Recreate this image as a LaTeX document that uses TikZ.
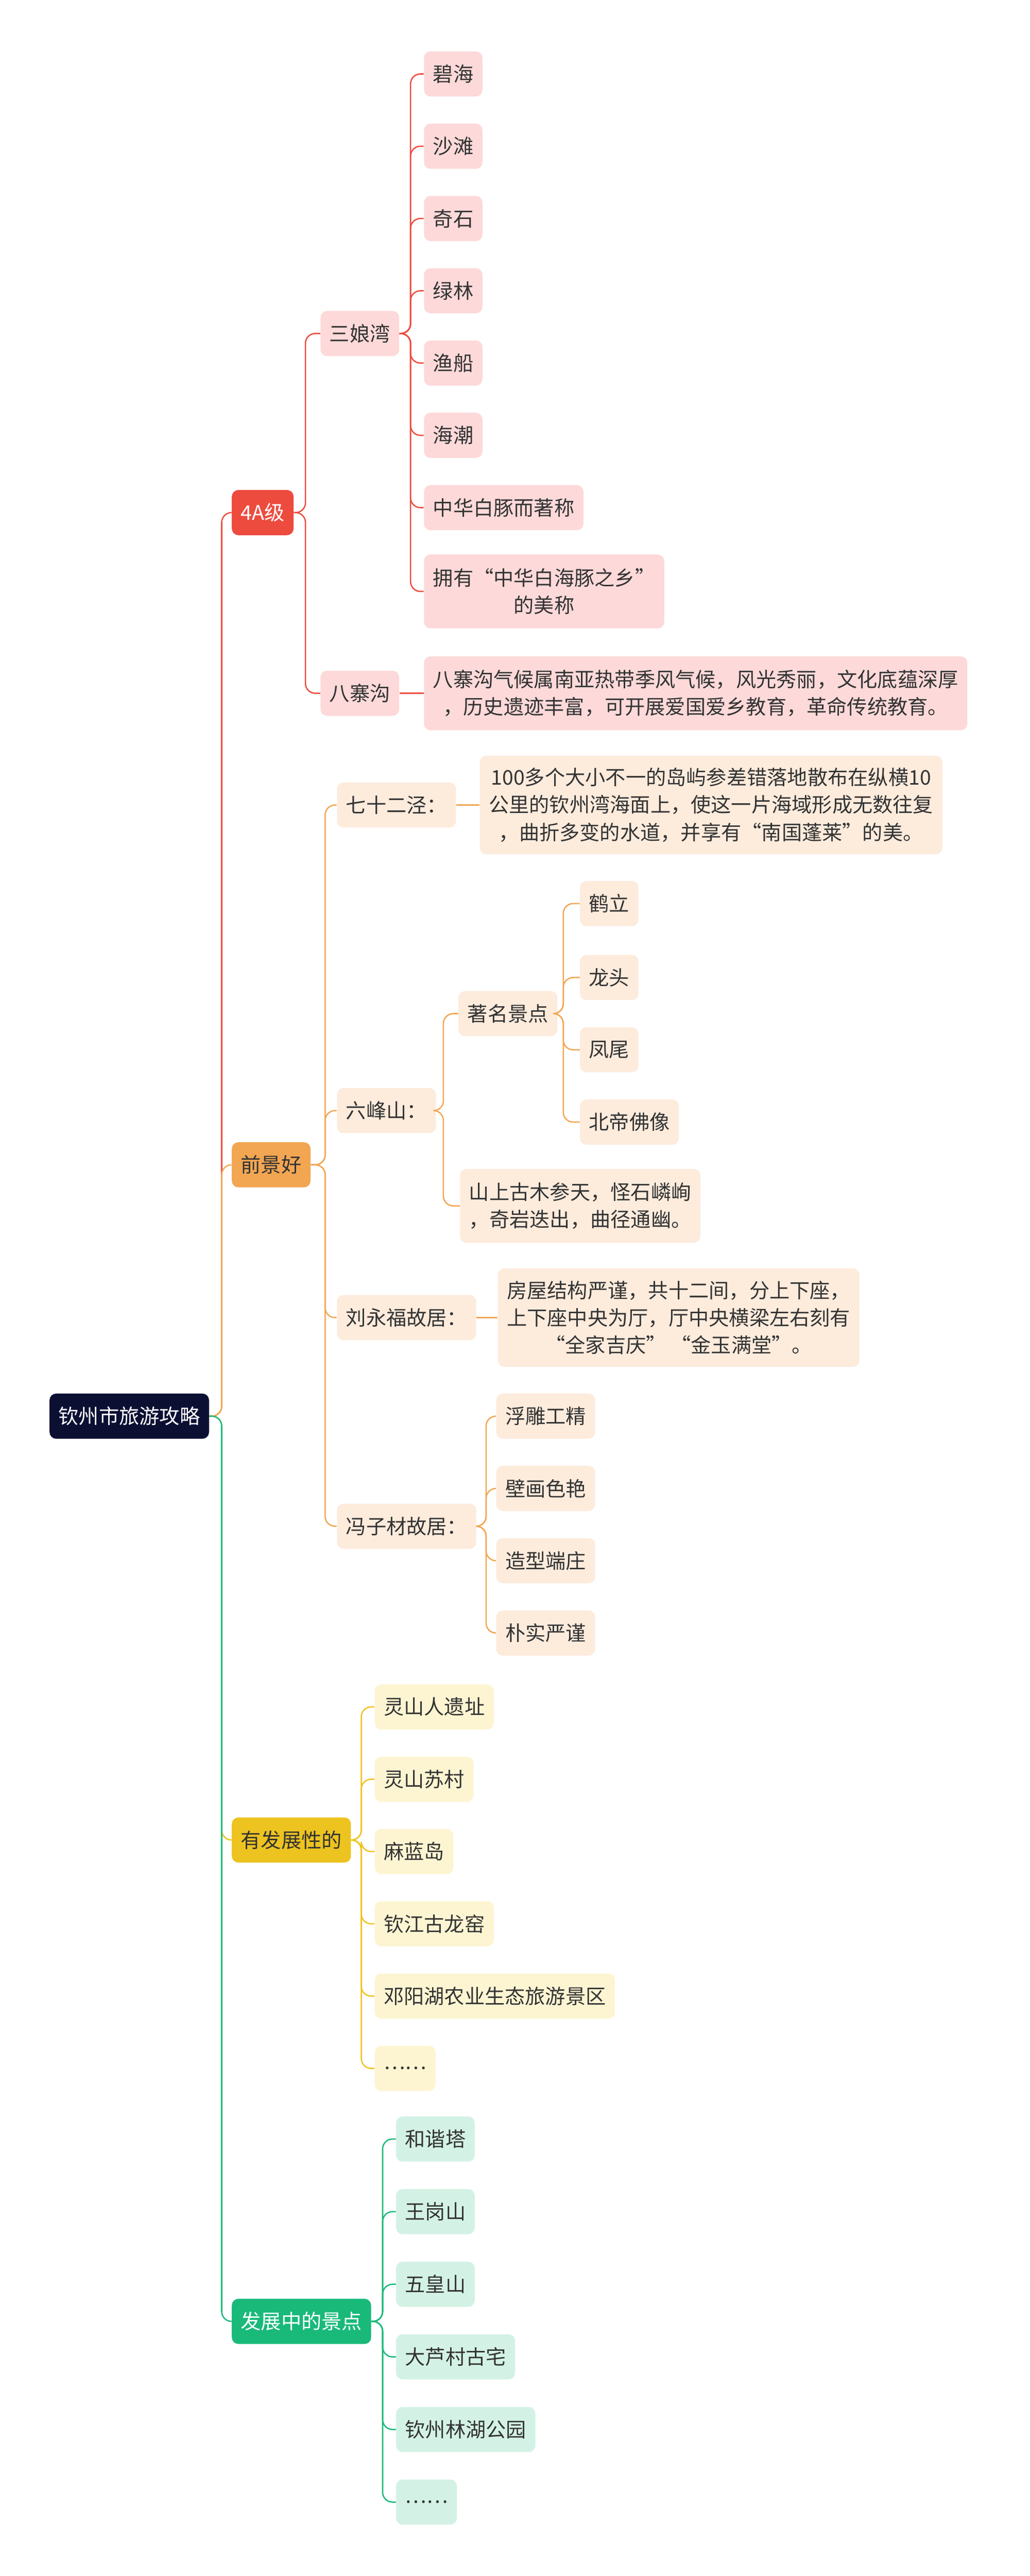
\documentclass[tikz,border=0pt]{standalone}
\usepackage{fontspec}
\setmainfont{Noto Sans CJK SC}
\usetikzlibrary{positioning}
\definecolor{navy}{HTML}{0B1033}
\definecolor{cred}{HTML}{EE4B3F}
\definecolor{cora}{HTML}{F2A652}
\definecolor{cyel}{HTML}{EDC31F}
\definecolor{cgrn}{HTML}{19B97A}
\definecolor{pred}{HTML}{FDD9D9}
\definecolor{pora}{HTML}{FDEBDC}
\definecolor{pyel}{HTML}{FDF5D2}
\definecolor{pgrn}{HTML}{D3F2E5}
\definecolor{txt}{HTML}{333333}
\begin{document}
\begin{tikzpicture}[
      x=0.4mm, y=-0.4mm,
      every node/.style={font=\fontsize{14}{19}\selectfont, text=txt},
      box/.style={rounded corners=1.6mm, minimum height=11mm, inner xsep=2.2mm, anchor=west},
      leaf/.style={box, fill=#1},
      top/.style={box, fill=#1, text=white},
      conn/.style={line width=0.9pt, rounded corners=2.4mm, draw=#1}
    ]
    \useasboundingbox (0,0) rectangle (627,1568);
    %root and first level
    \node[top=navy] (root) at (30,862) {钦州市旅游攻略};
    \node[top=cred] (fa) at (141,312) {4A级};
    \node[box, fill=cora] (qj) at (141,709) {前景好};
    \node[box, fill=cyel] (yf) at (141,1120) {有发展性的};
    \node[top=cgrn] (fz) at (141,1413) {发展中的景点};
    \foreach \c/\col in {fa/cred, qj/cora, yf/cyel, fz/cgrn}
      \draw[conn=\col] (root.east) -- (135,862) |- (\c.west);
    % 4A
    \node[leaf=pred] (sn) at (195,203) {三娘湾};
    \node[leaf=pred] (bz) at (195,422) {八寨沟};
    \foreach \c in {sn,bz}
      \draw[conn=cred] (fa.east) -- (186,312) |- (\c.west);
    \foreach \t [count=\i] in {碧海,沙滩,奇石,绿林,渔船,海潮,中华白豚而著称}{
      \node[leaf=pred] (sn\i) at (258,{45+44*(\i-1)}) {\t};
      \draw[conn=cred] (sn.east) -- (250,203) |- (sn\i.west);
    }
    \node[leaf=pred, minimum height=18mm, align=center] (sn8) at (258,360) {拥有“中华白海豚之乡”\\的美称};
    \draw[conn=cred] (sn.east) -- (250,203) |- (sn8.west);
    \node[leaf=pred, minimum height=18mm, align=center] (bzt) at (258,422)
      {八寨沟气候属南亚热带季风气候，风光秀丽，文化底蕴深厚\\，历史遗迹丰富，可开展爱国爱乡教育，革命传统教育。};
    \draw[conn=cred] (bz.east) -- (bzt.west);
    % 前景好
    \node[leaf=pora] (qs) at (205,490) {七十二泾：};
    \node[leaf=pora] (lf) at (205,676) {六峰山：};
    \node[leaf=pora] (ly) at (205,802) {刘永福故居：};
    \node[leaf=pora] (fc) at (205,929) {冯子材故居：};
    \foreach \c in {qs,lf,ly,fc}
      \draw[conn=cora] (qj.east) -- (198,709) |- (\c.west);
    \node[leaf=pora, minimum height=24mm, align=center] (qst) at (292,490)
      {100多个大小不一的岛屿参差错落地散布在纵横10\\公里的钦州湾海面上，使这一片海域形成无数往复\\，曲折多变的水道，并享有“南国蓬莱”的美。};
    \draw[conn=cora] (qs.east) -- (qst.west);
    \node[leaf=pora] (zm) at (279,617) {著名景点};
    \node[leaf=pora, minimum height=18mm, align=center] (ss) at (280,734) {山上古木参天，怪石嶙峋\\，奇岩迭出，曲径通幽。};
    \foreach \c in {zm,ss}
      \draw[conn=cora] (lf.east) -- (270,676) |- (\c.west);
    \foreach \t/\y [count=\i] in {鹤立/550,龙头/595,凤尾/639,北帝佛像/683}{
      \node[leaf=pora] (zm\i) at (353,\y) {\t};
      \draw[conn=cora] (zm.east) -- (343,617) |- (zm\i.west);
    }
    \node[leaf=pora, minimum height=24mm, align=center] (lyt) at (303,802)
      {房屋结构严谨，共十二间，分上下座，\\上下座中央为厅，厅中央横梁左右刻有\\“全家吉庆” “金玉满堂”。};
    \draw[conn=cora] (ly.east) -- (lyt.west);
    \foreach \t [count=\i] in {浮雕工精,壁画色艳,造型端庄,朴实严谨}{
      \node[leaf=pora] (fc\i) at (302,{862+44*(\i-1)}) {\t};
      \draw[conn=cora] (fc.east) -- (296,929) |- (fc\i.west);
    }
    % 有发展性的
    \foreach \t [count=\i] in {灵山人遗址,灵山苏村,麻蓝岛,钦江古龙窑,邓阳湖农业生态旅游景区,……}{
      \node[leaf=pyel] (yf\i) at (228,{1039+44*(\i-1)}) {\t};
      \draw[conn=cyel] (yf.east) -- (220,1120) |- (yf\i.west);
    }
    % 发展中的景点
    \foreach \t [count=\i] in {和谐塔,王岗山,五皇山,大芦村古宅,钦州林湖公园,……}{
      \node[leaf=pgrn] (fz\i) at (241,{1302+44.2*(\i-1)}) {\t};
      \draw[conn=cgrn] (fz.east) -- (233,1413) |- (fz\i.west);
    }
\end{tikzpicture}
\end{document}
